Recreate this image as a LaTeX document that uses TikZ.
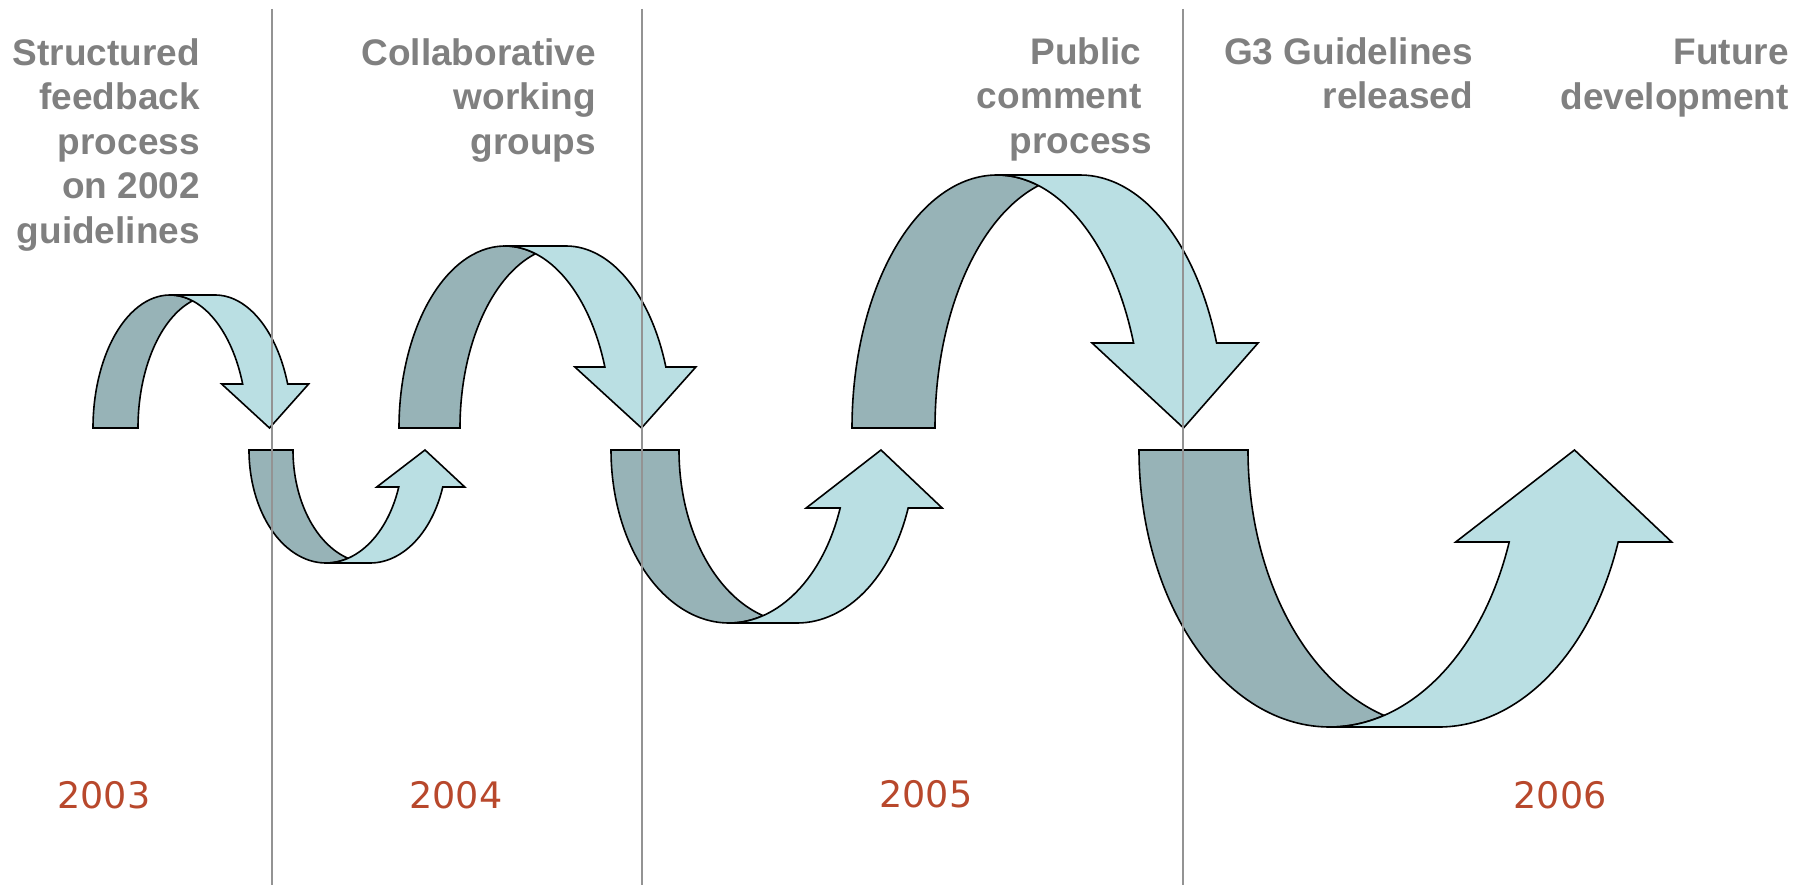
\documentclass[tikz,border=0pt]{standalone}
\usepackage{fontspec}
\setmainfont{Liberation Sans}
\newfontfamily\yearfont{DejaVu Sans}
\usepackage{tikz}

\definecolor{ribbondark}{RGB}{151,179,183}
\definecolor{ribbonlight}{RGB}{186,223,227}
\definecolor{labelgray}{RGB}{128,128,128}
\definecolor{yearred}{RGB}{184,72,44}

\tikzset{
  ribbon/.style={draw=black,line width=1.6pt,line join=miter},
  divider/.style={draw=labelgray!85!white,line width=1.5pt},
  stagelabel/.style={text=labelgray,align=right,inner sep=0pt,anchor=north east,
    font=\fontsize{37}{44.6}\selectfont\bfseries},
  yearlabel/.style={text=yearred,inner sep=0pt,anchor=base,
    font=\fontsize{36.5}{40}\selectfont\yearfont}
}

% #1 left, #2 base, #3 height, #4 x radius, #5 band, #6 head width, #7 head length
\newcommand{\ribbonsetup}[7]{%
  \pgfmathsetmacro{\rbAlpha}{acos(#5/(2*#4))}%
  \pgfmathsetmacro{\rbHead}{asin(#7/#3)}%
  \pgfmathsetmacro{\rbXin}{#1+#4+#4*cos(\rbHead)}%
  \pgfmathsetmacro{\rbDh}{(#6-#5)/2}%
  \pgfmathsetmacro{\rbTip}{#1+2*#4+#5/2}%
}
\newcommand{\overarrow}[7]{%
  \ribbonsetup{#1}{#2}{#3}{#4}{#5}{#6}{#7}
  \draw[ribbon,fill=ribbondark] (#1,#2)
    arc[start angle=180,end angle=360-\rbAlpha,x radius=#4,y radius=#3]
    arc[start angle=180+\rbAlpha,end angle=180,x radius=#4,y radius=#3] -- cycle;
  \draw[ribbon,fill=ribbonlight] (\rbXin,#2-#7)
    arc[start angle=360-\rbHead,end angle=270,x radius=#4,y radius=#3] -- ++(#5,0)
    arc[start angle=270,end angle=360-\rbHead,x radius=#4,y radius=#3] -- ++(\rbDh,0)
    -- (\rbTip,#2) -- (\rbXin-\rbDh,#2-#7) -- cycle;
}
\newcommand{\underarrow}[7]{%
  \ribbonsetup{#1}{#2}{#3}{#4}{#5}{#6}{#7}
  \draw[ribbon,fill=ribbondark] (#1,#2)
    arc[start angle=180,end angle=\rbAlpha,x radius=#4,y radius=#3]
    arc[start angle=180-\rbAlpha,end angle=180,x radius=#4,y radius=#3] -- cycle;
  \draw[ribbon,fill=ribbonlight] (\rbXin,#2+#7)
    arc[start angle=\rbHead,end angle=90,x radius=#4,y radius=#3] -- ++(#5,0)
    arc[start angle=90,end angle=\rbHead,x radius=#4,y radius=#3] -- ++(\rbDh,0)
    -- (\rbTip,#2) -- (\rbXin-\rbDh,#2+#7) -- cycle;
}

\begin{document}
\begin{tikzpicture}[x=1pt,y=-1pt]
   \useasboundingbox (0,0) rectangle (1809,885);

   \overarrow{93}{428}{133}{77}{45}{87}{44}
   \underarrow{249}{450}{113}{77}{44}{88}{37}
   \overarrow{399}{428}{182}{106}{61}{121}{61}
   \underarrow{611}{450}{173}{118}{68}{136}{58}
   \overarrow{852}{428}{253}{145}{83}{166}{85}
   \underarrow{1139}{450}{277}{190.5}{109}{216}{92}

   \foreach \x in {272,642,1183}
      \draw[divider] (\x,9) -- (\x,885);

   \node[stagelabel] (feedback) at (200,38) {Structured\\feedback\\process\\on 2002\\guidelines};
   \node[stagelabel] (groups) at (596,38) {Collaborative\\working\\groups};
   \node[stagelabel] (comment) at (1152,37) {Public\kern0.28em\\comment\kern0.28em\\process};
   \node[stagelabel] (released) at (1473,37) {G3 Guidelines\\released};
   \node[stagelabel] (future) at (1789,39) {Future\\development};

   \node[yearlabel] (y2003) at (104,808) {2003};
   \node[yearlabel] (y2004) at (456,808) {2004};
   \node[yearlabel] (y2005) at (926,807) {2005};
   \node[yearlabel] (y2006) at (1560,808) {2006};
\end{tikzpicture}
\end{document}
